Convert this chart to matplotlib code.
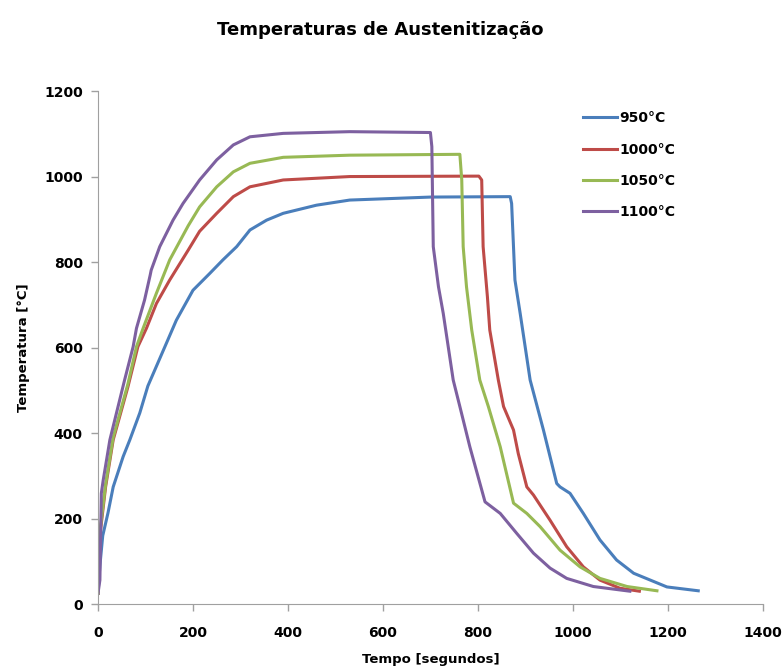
import matplotlib.pyplot as plt

# Curves (time in s, temperature in °C)
t_950 = [0, 4, 10, 21, 32, 53, 67, 88, 105, 144, 165, 200, 235, 263, 292, 320, 355, 390, 460, 530,
         700, 868, 871, 878, 889, 910, 938, 966, 973, 994, 1022, 1057, 1092, 1128, 1198, 1264]
T_950 = [25, 90, 160, 213, 274, 345, 384, 447, 510, 610, 664, 734, 773, 805, 836, 875, 898, 914, 933, 945,
         952, 953, 937, 758, 680, 524, 407, 282, 274, 259, 212, 150, 103, 72, 40, 31]

t_1000 = [0, 3, 16, 32, 63, 84, 102, 123, 151, 190, 214, 250, 285, 320, 390, 530, 802,
          808, 811, 820, 825, 843, 854, 875, 885, 903, 917, 952, 987, 1022, 1057, 1099, 1140]
T_1000 = [25, 150, 274, 384, 508, 602, 645, 703, 758, 828, 872, 914, 953, 976, 992, 1000, 1001,
          992, 836, 719, 641, 524, 462, 407, 352, 274, 255, 196, 134, 87, 56, 37, 30]

t_1050 = [0, 3, 16, 32, 63, 81, 95, 123, 151, 190, 214, 250, 285, 320, 390, 530, 762,
          766, 769, 776, 787, 804, 822, 847, 875, 903, 931, 973, 1015, 1057, 1114, 1177]
T_1050 = [25, 160, 280, 390, 515, 602, 645, 727, 805, 885, 929, 976, 1011, 1031, 1045, 1050, 1052,
          992, 836, 742, 641, 524, 462, 368, 236, 212, 181, 126, 87, 60, 41, 31]

t_1100 = [0, 4, 7, 11, 25, 56, 74, 81, 98, 110, 112, 130, 158, 179, 214, 250, 285, 320, 390, 530, 700,
          703, 706, 717, 727, 748, 762, 783, 815, 847, 882, 917, 952, 987, 1043, 1120]
T_1100 = [25, 56, 259, 290, 384, 524, 602, 645, 711, 770, 781, 836, 898, 937, 992, 1039, 1074, 1093, 1101, 1105, 1103,
          1070, 836, 742, 680, 524, 462, 368, 239, 212, 165, 119, 84, 60, 41, 30]

series = [
    (t_950, T_950, "950°C", "#4A7EBB"),
    (t_1000, T_1000, "1000°C", "#BE4B48"),
    (t_1050, T_1050, "1050°C", "#98B954"),
    (t_1100, T_1100, "1100°C", "#7D60A0"),
]

fig = plt.figure(figsize=(7.84, 6.71), dpi=100)
ax = fig.add_axes([0.125, 0.0998, 0.848, 0.7645])

for t, T, lab, col in series:
    ax.plot(t, T, color=col, lw=2.2, label=lab)

ax.set_xlim(0, 1400)
ax.set_ylim(0, 1200)
ax.set_xticks(range(0, 1401, 200))
ax.set_yticks(range(0, 1201, 200))

for s in ["top", "right"]:
    ax.spines[s].set_visible(False)
for s in ["left", "bottom"]:
    ax.spines[s].set_color("#A0A0A0")
ax.tick_params(colors="#A0A0A0", labelcolor="black", length=5, labelsize=10, width=1)
for lbl in ax.get_xticklabels() + ax.get_yticklabels():
    lbl.set_fontweight("bold")
ax.tick_params(axis="x", pad=11)
ax.tick_params(axis="y", pad=6)

ax.set_xlabel("Tempo [segundos]", fontsize=9.5, fontweight="bold", labelpad=9)
ax.set_ylabel("Temperatura [°C]", fontsize=9.5, fontweight="bold", labelpad=10)
fig.text(0.485, 0.955, "Temperaturas de Austenitização", ha="center", va="center",
         fontsize=13, fontweight="bold")

leg = ax.legend(loc="upper left", bbox_to_anchor=(0.71, 0.985), frameon=False,
                handlelength=2.5, handletextpad=0.15, labelspacing=1.25,
                prop={"weight": "bold", "size": 10})

fig.savefig("out.png", dpi=100)
